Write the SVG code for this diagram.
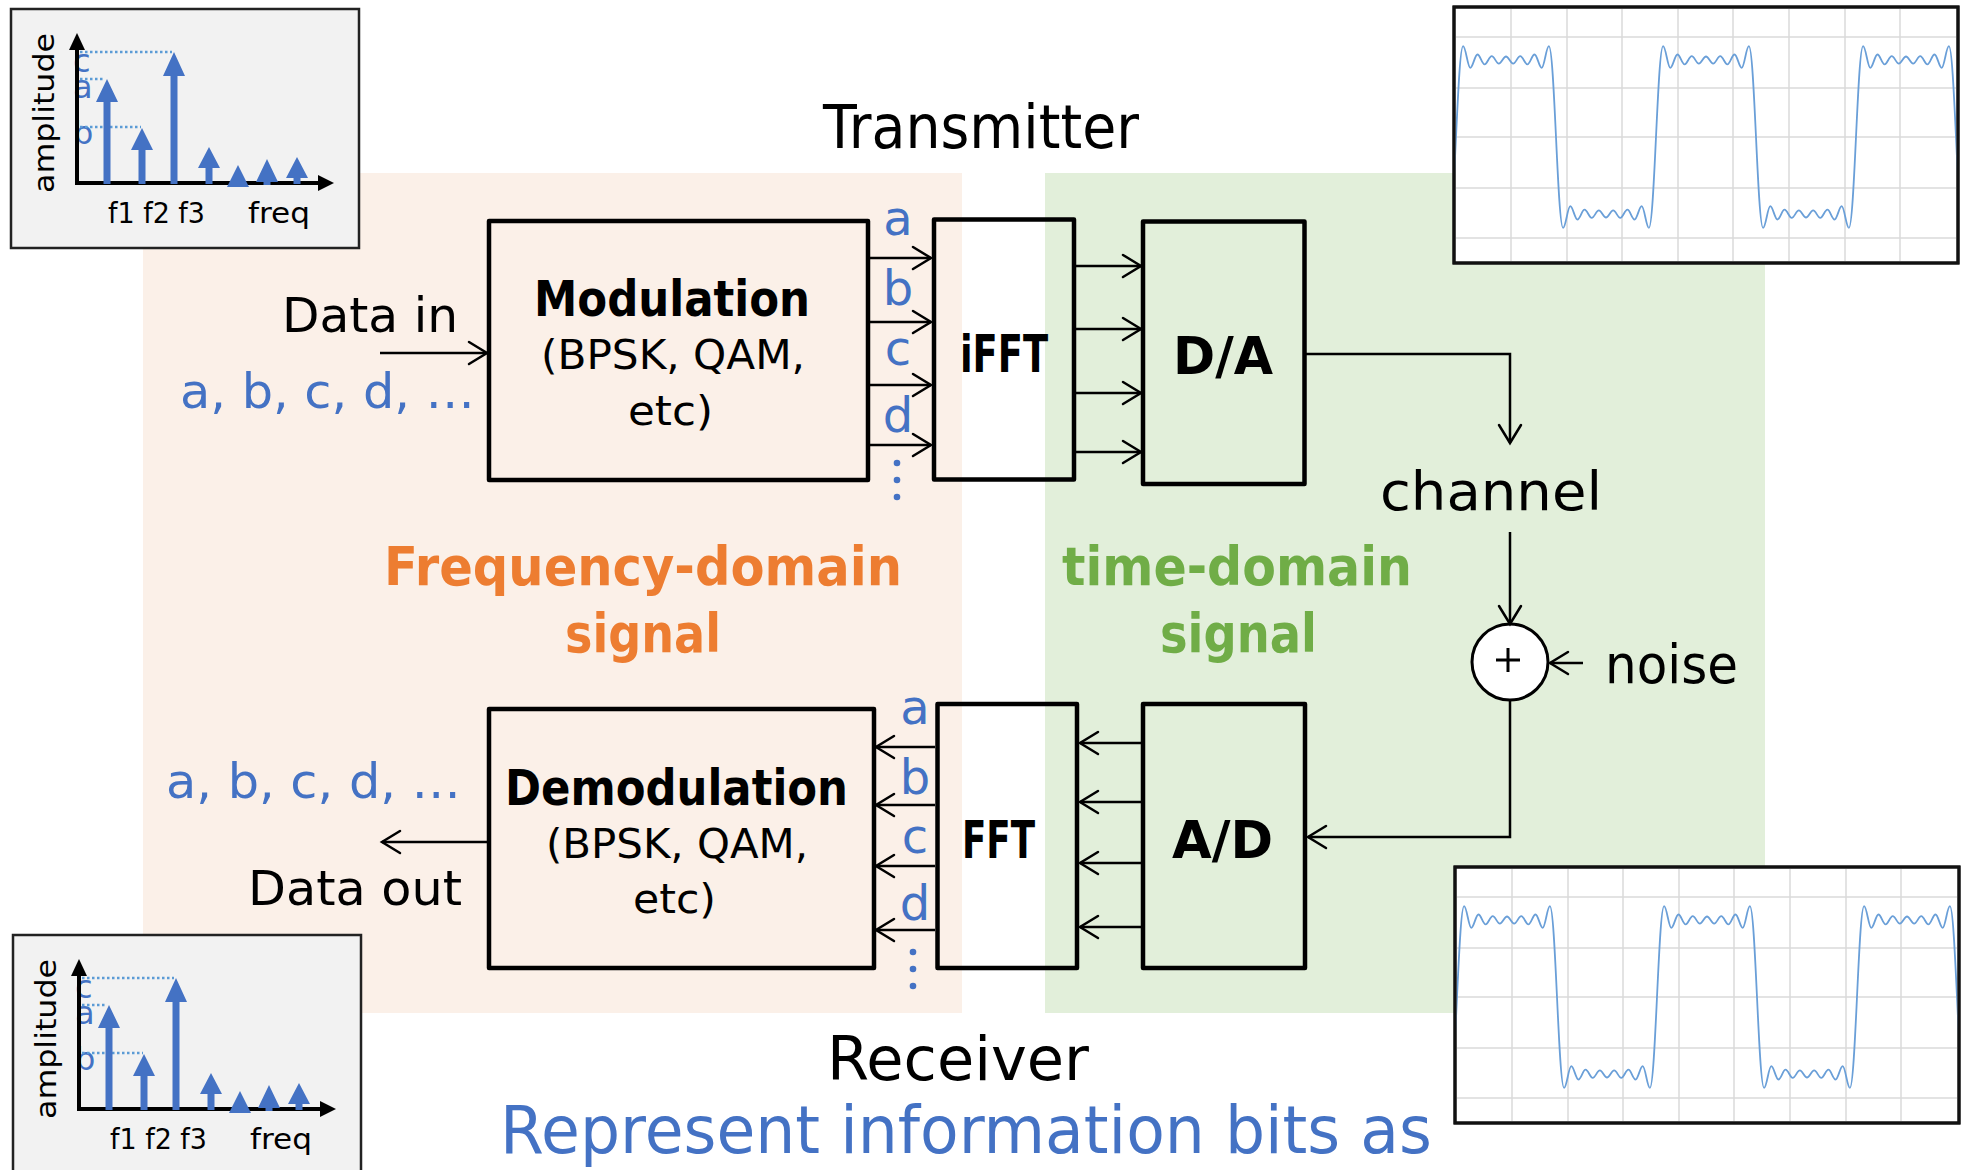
<svg xmlns="http://www.w3.org/2000/svg" xmlns:xlink="http://www.w3.org/1999/xlink" width="1966" height="1170" viewBox="0 0 1966 1170">
<style>
  text { font-family: "DejaVu Sans", "Liberation Sans", sans-serif; fill: #000; }
  .b { font-weight: bold; }
  .blue { fill: #4472C4; }
  .org { fill: #ED7D31; font-weight: bold; }
  .grn { fill: #70AD47; font-weight: bold; }
  .blk { fill: none; stroke: #000; stroke-width: 4.5; stroke-linejoin: round; }
  .ln { fill: none; stroke: #000; stroke-width: 2.5; }
  .grid { stroke: #DADADA; stroke-width: 1.5; }
  .wave { fill: none; stroke: #6A9FD8; stroke-width: 1.8; }
  .bar { fill: #4472C4; }
  .dot { stroke: #5B9BD5; stroke-width: 2.5; stroke-dasharray: 2.5 2.5; }
  .sbox { fill: #F2F2F2; stroke: #222; stroke-width: 2.5; }
  .wbox { fill: #FFFFFF; stroke: #111; stroke-width: 3; }
</style>
<defs>
  <marker id="arr" markerUnits="userSpaceOnUse" viewBox="-22 -14 26 28" refX="0" refY="0" markerWidth="26" markerHeight="28" orient="auto" overflow="visible">
    <path d="M-18,-11 L0,0 L-18,11" fill="none" stroke="#000" stroke-width="2.5" stroke-linecap="round"/>
  </marker>
  <path id="wavePeriod" class="wave" d="M-7.14,90.9 C-1.34,90.9 1.34,-90.9 7.14,-90.9 C9.74,-90.9 11.69,-69.2 14.29,-69.2 C16.89,-69.2 18.83,-82.5 21.43,-82.5 C24.03,-82.5 25.97,-72.6 28.57,-72.6 C31.17,-72.6 33.11,-80.9 35.71,-80.9 C38.31,-80.9 40.26,-73.4 42.86,-73.4 C45.46,-73.4 47.4,-80.5 50,-80.5 C52.6,-80.5 54.54,-73.4 57.14,-73.4 C59.74,-73.4 61.69,-80.9 64.29,-80.9 C66.89,-80.9 68.83,-72.6 71.43,-72.6 C74.03,-72.6 75.97,-82.5 78.57,-82.5 C81.17,-82.5 83.11,-69.2 85.71,-69.2 C88.31,-69.2 90.26,-90.9 92.86,-90.9 C98.66,-90.9 101.34,90.9 107.14,90.9 C109.74,90.9 111.69,69.2 114.29,69.2 C116.89,69.2 118.83,82.5 121.43,82.5 C124.03,82.5 125.97,72.6 128.57,72.6 C131.17,72.6 133.11,80.9 135.71,80.9 C138.31,80.9 140.26,73.4 142.86,73.4 C145.46,73.4 147.4,80.5 150,80.5 C152.6,80.5 154.54,73.4 157.14,73.4 C159.74,73.4 161.69,80.9 164.29,80.9 C166.89,80.9 168.83,72.6 171.43,72.6 C174.03,72.6 175.97,82.5 178.57,82.5 C181.17,82.5 183.11,69.2 185.71,69.2 C188.31,69.2 190.26,90.9 192.86,90.9"/>
  <clipPath id="waveClip" clipPathUnits="userSpaceOnUse">
    <rect x="1455.5" y="8.5" width="501" height="253"/>
  </clipPath>
  <g id="waveChart">
    <rect class="wbox" x="1454" y="7" width="504" height="256"/>
    <g class="grid">
      <line x1="1511" y1="9" x2="1511" y2="261"/>
      <line x1="1567" y1="9" x2="1567" y2="261"/>
      <line x1="1622" y1="9" x2="1622" y2="261"/>
      <line x1="1678" y1="9" x2="1678" y2="261"/>
      <line x1="1733" y1="9" x2="1733" y2="261"/>
      <line x1="1789" y1="9" x2="1789" y2="261"/>
      <line x1="1845" y1="9" x2="1845" y2="261"/>
      <line x1="1900" y1="9" x2="1900" y2="261"/>
      <line x1="1456" y1="37" x2="1956" y2="37"/>
      <line x1="1456" y1="88" x2="1956" y2="88"/>
      <line x1="1456" y1="137" x2="1956" y2="137"/>
      <line x1="1456" y1="188" x2="1956" y2="188"/>
      <line x1="1456" y1="238" x2="1956" y2="238"/>
    </g>
    <g clip-path="url(#waveClip)">
      <use xlink:href="#wavePeriod" href="#wavePeriod" x="1456" y="137"/>
      <use xlink:href="#wavePeriod" href="#wavePeriod" x="1656" y="137"/>
      <use xlink:href="#wavePeriod" href="#wavePeriod" x="1856" y="137"/>
    </g>
    <rect x="1454" y="7" width="504" height="256" fill="none" stroke="#111" stroke-width="3"/>
  </g>
  <g id="specChart">
    <rect class="sbox" x="11" y="9" width="348" height="239"/>
    <text class="blue" x="73" y="72" font-size="32">c</text>
    <text class="blue" x="73" y="98" font-size="32">a</text>
    <text class="blue" x="73" y="144" font-size="32">b</text>
    <line class="dot" x1="80" y1="52" x2="172" y2="52"/>
    <line class="dot" x1="80" y1="79" x2="105" y2="79"/>
    <line class="dot" x1="80" y1="127" x2="141" y2="127"/>
    <line x1="77" y1="185" x2="77" y2="46" stroke="#000" stroke-width="4"/>
    <polygon points="77,33 69,50 85,50" fill="#000"/>
    <line x1="75" y1="183" x2="322" y2="183" stroke="#000" stroke-width="4"/>
    <polygon points="334,183 318,175 318,191" fill="#000"/>
    <path class="bar" d="M103.5,101 H110.5 V184 H103.5 Z M96,102 L107,79 L118,102 Z"/>
    <path class="bar" d="M138.5,149 H145.5 V184 H138.5 Z M131,150 L142,128 L153,150 Z"/>
    <path class="bar" d="M170.5,75 H177.5 V184 H170.5 Z M163,76 L174,52 L185,76 Z"/>
    <path class="bar" d="M205.5,167 H212.5 V184 H205.5 Z M198,168 L209,147 L220,168 Z"/>
    <path class="bar" d="M227,187 L238,165 L249,187 Z"/>
    <path class="bar" d="M263.5,181 H270.5 V185 H263.5 Z M256,182 L267,159 L278,182 Z"/>
    <path class="bar" d="M293.5,177 H300.5 V184 H293.5 Z M286,178 L297,157 L308,178 Z"/>
    <text transform="translate(54,193) rotate(-90)" font-size="28" textLength="160" lengthAdjust="spacingAndGlyphs">amplitude</text>
    <text x="108" y="223" font-size="28" textLength="97" lengthAdjust="spacingAndGlyphs">f1 f2 f3</text>
    <text x="248" y="223" font-size="28" textLength="62" lengthAdjust="spacingAndGlyphs">freq</text>
  </g>
</defs>

<rect x="0" y="0" width="1966" height="1170" fill="#FFFFFF"/>

<g id="backgrounds">
  <rect x="143" y="173" width="819" height="840" fill="#FBF0E8"/>
  <rect x="1045" y="173" width="720" height="840" fill="#E2EFDA"/>
</g>

<g id="spectrum-tx"><use xlink:href="#specChart" href="#specChart"/></g>
<g id="spectrum-rx"><use xlink:href="#specChart" href="#specChart" transform="translate(2,926)"/></g>
<g id="waveform-tx"><use xlink:href="#waveChart" href="#waveChart"/></g>
<g id="waveform-rx"><use xlink:href="#waveChart" href="#waveChart" transform="translate(1,860)"/></g>

<g id="titles">
  <text x="823" y="148" font-size="60" textLength="316" lengthAdjust="spacingAndGlyphs">Transmitter</text>
  <text x="827" y="1080" font-size="60" textLength="262" lengthAdjust="spacingAndGlyphs">Receiver</text>
  <text class="blue" x="500" y="1153" font-size="66" textLength="932" lengthAdjust="spacingAndGlyphs">Represent information bits as</text>
  <text class="org" x="384" y="585" font-size="54" textLength="518" lengthAdjust="spacingAndGlyphs">Frequency-domain</text>
  <text class="org" x="565" y="652" font-size="54" textLength="156" lengthAdjust="spacingAndGlyphs">signal</text>
  <text class="grn" x="1062" y="585" font-size="54" textLength="350" lengthAdjust="spacingAndGlyphs">time-domain</text>
  <text class="grn" x="1160" y="652" font-size="54" textLength="157" lengthAdjust="spacingAndGlyphs">signal</text>
</g>

<g id="data-in">
  <text x="282" y="332" font-size="48" textLength="176" lengthAdjust="spacingAndGlyphs">Data in</text>
  <text class="blue" x="180" y="408" font-size="48" textLength="295" lengthAdjust="spacingAndGlyphs">a, b, c, d, …</text>
</g>

<g id="modulation">
  <rect class="blk" x="489" y="221" width="379" height="259"/>
  <text class="b" x="534" y="316" font-size="50" textLength="276" lengthAdjust="spacingAndGlyphs">Modulation</text>
  <text x="541" y="369" font-size="40" textLength="264" lengthAdjust="spacingAndGlyphs">(BPSK, QAM,</text>
  <text x="628" y="425" font-size="40" textLength="85" lengthAdjust="spacingAndGlyphs">etc)</text>
</g>

<g id="ifft">
  <rect class="blk" x="934" y="219.5" width="140" height="260"/>
  <text class="b" x="960" y="372" font-size="52" textLength="88" lengthAdjust="spacingAndGlyphs">iFFT</text>
</g>

<g id="da">
  <rect class="blk" x="1143" y="221.5" width="161.5" height="262.5"/>
  <text class="b" x="1173" y="374" font-size="52" textLength="100" lengthAdjust="spacingAndGlyphs">D/A</text>
</g>

<g id="tx-subcarriers">
  <text class="blue" x="898" y="235" font-size="48" text-anchor="middle">a</text>
  <text class="blue" x="898" y="305" font-size="48" text-anchor="middle">b</text>
  <text class="blue" x="898" y="365" font-size="48" text-anchor="middle">c</text>
  <text class="blue" x="898" y="432" font-size="48" text-anchor="middle">d</text>
  <circle cx="897" cy="463" r="3.3" fill="#4472C4"/>
  <circle cx="897" cy="480" r="3.3" fill="#4472C4"/>
  <circle cx="897" cy="497" r="3.3" fill="#4472C4"/>
</g>

<g id="channel">
  <text x="1380" y="510" font-size="54" textLength="222" lengthAdjust="spacingAndGlyphs">channel</text>
</g>

<g id="sum">
  <circle cx="1510" cy="662" r="38" fill="#FFFFFF" stroke="#000" stroke-width="3"/>
  <path d="M1496,660 H1520 M1508,648 V672" stroke="#000" stroke-width="3" fill="none"/>
</g>

<g id="noise">
  <text x="1605" y="683" font-size="54" textLength="133" lengthAdjust="spacingAndGlyphs">noise</text>
</g>

<g id="ad">
  <rect class="blk" x="1143" y="704" width="162" height="264"/>
  <text class="b" x="1172" y="858" font-size="52" textLength="101" lengthAdjust="spacingAndGlyphs">A/D</text>
</g>

<g id="fft">
  <rect class="blk" x="937.5" y="704" width="139.5" height="264"/>
  <text class="b" x="962" y="858" font-size="52" textLength="73" lengthAdjust="spacingAndGlyphs">FFT</text>
</g>

<g id="rx-subcarriers">
  <text class="blue" x="915" y="724" font-size="48" text-anchor="middle">a</text>
  <text class="blue" x="915" y="794" font-size="48" text-anchor="middle">b</text>
  <text class="blue" x="915" y="853" font-size="48" text-anchor="middle">c</text>
  <text class="blue" x="915" y="920" font-size="48" text-anchor="middle">d</text>
  <circle cx="913" cy="952" r="3.3" fill="#4472C4"/>
  <circle cx="913" cy="969" r="3.3" fill="#4472C4"/>
  <circle cx="913" cy="986" r="3.3" fill="#4472C4"/>
</g>

<g id="demodulation">
  <rect class="blk" x="489" y="709" width="385" height="259"/>
  <text class="b" x="505" y="805" font-size="50" textLength="343" lengthAdjust="spacingAndGlyphs">Demodulation</text>
  <text x="546" y="858" font-size="40" textLength="262" lengthAdjust="spacingAndGlyphs">(BPSK, QAM,</text>
  <text x="633" y="913" font-size="40" textLength="83" lengthAdjust="spacingAndGlyphs">etc)</text>
</g>

<g id="data-out">
  <text class="blue" x="166" y="798" font-size="48" textLength="295" lengthAdjust="spacingAndGlyphs">a, b, c, d, …</text>
  <text x="248" y="905" font-size="48" textLength="214" lengthAdjust="spacingAndGlyphs">Data out</text>
</g>

<g id="connectors" class="ln" marker-end="url(#arr)">
  <path d="M380,353 H487"/>
  <path d="M870,258 H931"/>
  <path d="M870,322 H931"/>
  <path d="M870,385 H931"/>
  <path d="M870,445 H931"/>
  <path d="M1076,266 H1141"/>
  <path d="M1076,329 H1141"/>
  <path d="M1076,393 H1141"/>
  <path d="M1076,452 H1141"/>
  <path d="M1306,354 H1510 V443"/>
  <path d="M1510,532 V624"/>
  <path d="M1583,663 H1550"/>
  <path d="M1510,700 V837 H1308"/>
  <path d="M1141,743 H1080"/>
  <path d="M1141,802 H1080"/>
  <path d="M1141,863 H1080"/>
  <path d="M1141,927 H1080"/>
  <path d="M935,747 H876"/>
  <path d="M935,805 H876"/>
  <path d="M935,866 H876"/>
  <path d="M935,930 H876"/>
  <path d="M487,842 H382"/>
</g>
</svg>
